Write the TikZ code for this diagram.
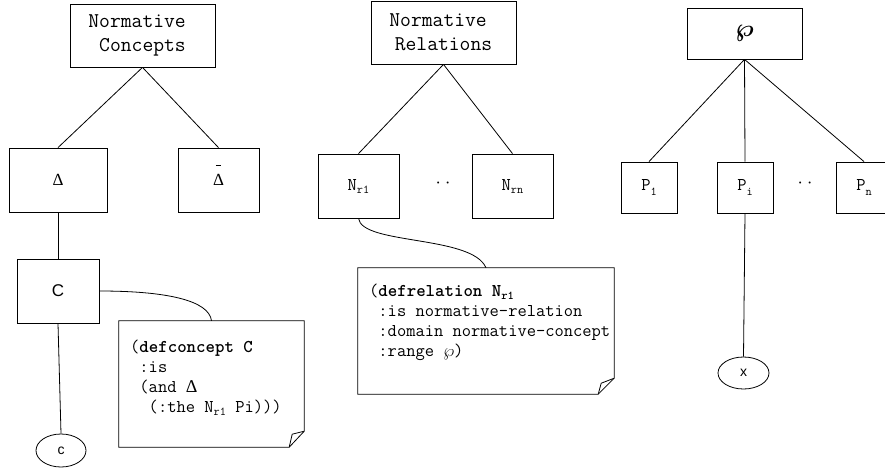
\documentclass[tikz,border=0pt]{standalone}
\usepackage{amsmath}
\usepackage{fontspec}
\usetikzlibrary{shapes.geometric}
\newfontfamily\sansf{Liberation Sans}
\newfontfamily\seriff{Liberation Serif}
\newcommand{\subx}[2][3pt]{\raisebox{-#1}{\fontsize{12}{12}\selectfont #2}}
\newcommand{\dbar}{\rlap{\hspace{0.16em}\smash{\rule[1.15em]{0.3em}{1pt}}}}
\begin{document}
\begin{tikzpicture}[x=1pt,y=-1pt,
  box/.style={draw, rectangle, line width=0.8pt, inner sep=0pt},
  oval/.style={draw, ellipse, line width=0.8pt, inner sep=0pt, font=\sansf\fontsize{14}{14}\selectfont},
  conn/.style={line width=0.8pt},
  toplab/.style={font=\ttfamily\fontsize{21}{24}\selectfont, align=center},
  sym/.style={font=\seriff\fontsize{17}{17}\selectfont},
  lab/.style={font=\ttfamily\fontsize{18}{18}\selectfont},
  notebox/.style={inner sep=0pt},
  notetext/.style={font=\ttfamily\fontsize{18}{20}\selectfont, align=left, inner sep=0pt, anchor=north west}]
\useasboundingbox (0,0) rectangle (885,471);
\clip (0,0) rectangle (885,471);

% tree 1
\node[box, toplab, minimum width=145pt, minimum height=63pt] (nc) at (142.5,35.5) {Normative\phantom{x}\\Concepts};
\node[box, sym, minimum width=98pt, minimum height=64pt] (d) at (58,180) {Δ};
\node[box, sym, minimum width=81pt, minimum height=64pt] (db) at (218.5,180) {\dbar Δ};
\node[box, font=\sansf\fontsize{17}{17}\selectfont, minimum width=82pt, minimum height=64pt] (C) at (58,291) {C};
\node[oval, minimum width=50pt, minimum height=33pt] (c) at (61,450.5) {c};
\node[notebox, minimum width=185pt, minimum height=126pt] (cn) at (211.5,384) {};
\node[notetext] (cnt) at (130,339.5) {(\textbf{defconcept C}\\
\phantom{x}:is\\
\phantom{x}(and {\seriff Δ}\\
\phantom{xx}(:the N\subx{r1} Pi)))};

\draw[conn] (nc.south) -- (d.north);
\draw[conn] (nc.south) -- (db.north);
\draw[conn] (d.south) -- (C.north);
\draw[conn] (C.south) -- (c.north);
\draw[conn] (C.east) .. controls (165,291) and (209,300) .. (cn.north);
\draw[conn] (cn.north west) -- (cn.north east) -- ([yshift=16pt]cn.south east) -- ([xshift=-15pt]cn.south east) -- (cn.south west) -- cycle;
\draw[conn] ([yshift=16pt]cn.south east) -- ([xshift=-12pt,yshift=13pt]cn.south east) -- ([xshift=-15pt]cn.south east);

% tree 2
\node[box, toplab, minimum width=145pt, minimum height=63pt] (nr) at (443.5,32.5) {Normative\phantom{x}\\Relations};
\node[box, lab, minimum width=81pt, minimum height=64pt] (n1) at (358.5,186) {N\subx{r1}};
\node[box, lab, minimum width=81pt, minimum height=64pt] (nn) at (512.5,186) {N\subx{rn}};
\node[lab] (ndots) at (443,185) {··};
\node[notebox, minimum width=256pt, minimum height=126pt] (rn) at (486,331) {};
\node[notetext] (rnt) at (369,283.5) {(\textbf{defrelation N\subx{r1}}\\
\phantom{x}:is normative-relation\\
\phantom{x}:domain normative-concept\\
\phantom{x}:range $\wp$)};

\draw[conn] (nr.south) -- (n1.north);
\draw[conn] (nr.south) -- (nn.north);
\draw[conn] (n1.south) .. controls (362,245) and (472,235) .. (rn.north);
\draw[conn] (rn.north west) -- (rn.north east) -- ([yshift=16pt]rn.south east) -- ([xshift=-16pt]rn.south east) -- (rn.south west) -- cycle;
\draw[conn] ([yshift=16pt]rn.south east) -- ([xshift=-13pt,yshift=11pt]rn.south east) -- ([xshift=-16pt]rn.south east);

% tree 3
\node[box, font=\fontsize{42}{42}\selectfont, minimum width=115pt, minimum height=51pt] (wp) at (744.5,33.5) {$\boldsymbol{\wp}$};
\node[box, lab, minimum width=56pt, minimum height=51pt] (p1) at (649,187.5) {P\subx[5pt]{1}};
\node[box, lab, minimum width=56pt, minimum height=51pt] (pi) at (745,187.5) {P\subx[5pt]{i}};
\node[box, lab, minimum width=56pt, minimum height=51pt] (pn) at (864,187.5) {P\subx[5pt]{n}};
\node[lab] (pdots) at (805,185) {··};
\node[oval, minimum width=51pt, minimum height=32pt] (x) at (743.5,373) {x};

\draw[conn] (wp.south) -- (p1.north);
\draw[conn] (wp.south) -- (pi.north);
\draw[conn] (wp.south) -- (pn.north);
\draw[conn] (pi.south) -- (x.north);
\end{tikzpicture}
\end{document}
